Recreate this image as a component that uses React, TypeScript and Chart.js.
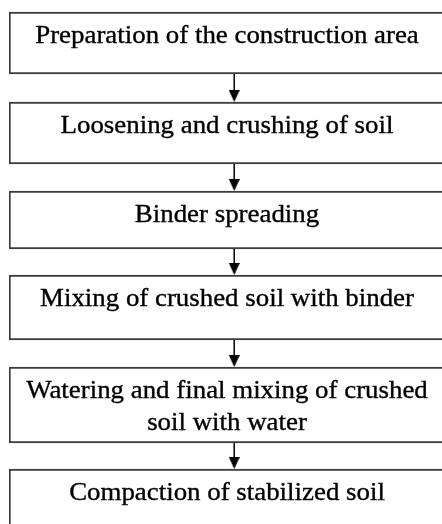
import { useEffect, useRef } from "react";
import { Chart, registerables } from "chart.js";

Chart.register(...registerables);

const stepLabels: string[][] = [
  ["Preparation of the construction area"],
  ["Loosening and crushing of soil"],
  ["Binder spreading"],
  ["Mixing of crushed soil with binder"],
  ["Watering and final mixing of crushed", "soil with water"],
  ["Compaction of stabilized soil"],
];
const boxTops = [12, 102, 191, 275, 367, 469];
const boxBottoms = [74, 164, 249, 340, 443, 536];
const arrowX = 235;

const CANVAS_W = 460;
const CANVAS_H = 540;

function makeArrowHead(): HTMLCanvasElement {
  const c = document.createElement("canvas");
  c.width = 11;
  c.height = 12;
  const g = c.getContext("2d")!;
  g.fillStyle = "#000";
  g.beginPath();
  g.moveTo(0, 0);
  g.lineTo(11, 0);
  g.lineTo(5.5, 12);
  g.closePath();
  g.fill();
  return c;
}

export default function App() {
  const ref = useRef<HTMLCanvasElement | null>(null);

  useEffect(() => {
    if (!ref.current) return;
    const head = makeArrowHead();

    const boxDatasets = boxTops.map((t, i) => ({
      type: "bar" as const,
      label: "box" + i,
      data: [[t, boxBottoms[i]]],
      backgroundColor: "#ffffff",
      borderColor: "#3c3c3c",
      borderWidth: 2,
      borderSkipped: false,
      barPercentage: 1,
      categoryPercentage: 1,
      grouped: false,
      xAxisID: "x",
      yAxisID: "y",
      order: 2,
    }));

    const shaftData: { x: number; y: number | null }[] = [];
    const headData: { x: number; y: number }[] = [];
    for (let i = 0; i < boxTops.length - 1; i++) {
      shaftData.push({ x: arrowX, y: boxBottoms[i] });
      shaftData.push({ x: arrowX, y: boxTops[i + 1] - 8 });
      shaftData.push({ x: arrowX, y: null });
      headData.push({ x: arrowX, y: boxTops[i + 1] - 6 });
    }

    const textPlugin = {
      id: "boxText",
      afterDatasetsDraw(chart: any) {
        const ctx = chart.ctx;
        const ys = chart.scales.y;
        const area = chart.chartArea;
        const cx = (area.left + area.right) / 2;
        ctx.save();
        ctx.fillStyle = "#000";
        ctx.strokeStyle = "#000";
        ctx.lineWidth = 0.35;
        ctx.font = '25px "Liberation Serif", "Times New Roman", serif';
        ctx.textAlign = "center";
        ctx.textBaseline = "alphabetic";
        stepLabels.forEach((lines, i) => {
          const top = ys.getPixelForValue(boxTops[i]);
          lines.forEach((ln, j) => {
            ctx.save();
            ctx.translate(cx, top + 31 + j * 32);
            ctx.scale(1.075, 1);
            ctx.fillText(ln, 0, 0);
            ctx.strokeText(ln, 0, 0);
            ctx.restore();
          });
        });
        ctx.restore();
      },
    };

    const chart = new Chart(ref.current, {
      type: "bar",
      data: {
        labels: ["flow"],
        datasets: [
          ...boxDatasets,
          {
            type: "line" as const,
            label: "shafts",
            data: shaftData,
            borderColor: "#000",
            borderWidth: 1.5,
            pointRadius: 0,
            spanGaps: false,
            xAxisID: "x2",
            yAxisID: "y",
            order: 1,
          },
          {
            type: "line" as const,
            label: "heads",
            data: headData,
            showLine: false,
            pointStyle: head,
            pointRadius: 6,
            xAxisID: "x2",
            yAxisID: "y",
            order: 0,
          },
        ] as any,
      },
      options: {
        animation: false,
        responsive: false,
        devicePixelRatio: 1,
        layout: {
          autoPadding: false,
          padding: { left: 9, right: CANVAS_W - 445, top: 0, bottom: 0 },
        },
        plugins: { legend: { display: false }, tooltip: { enabled: false } },
        scales: {
          x: { type: "category", display: false, offset: true },
          x2: { type: "linear", display: false, min: 9, max: 445 },
          y: { type: "linear", display: false, min: 0, max: CANVAS_H, reverse: true },
        },
      },
      plugins: [textPlugin],
    });
    return () => chart.destroy();
  }, []);

  return (
    <div
      style={{
        position: "fixed",
        left: 0,
        top: 0,
        width: 442,
        height: 524,
        overflow: "hidden",
        background: "#fff",
      }}
    >
      <canvas ref={ref} width={CANVAS_W} height={CANVAS_H} style={{ display: "block" }} />
    </div>
  );
}
